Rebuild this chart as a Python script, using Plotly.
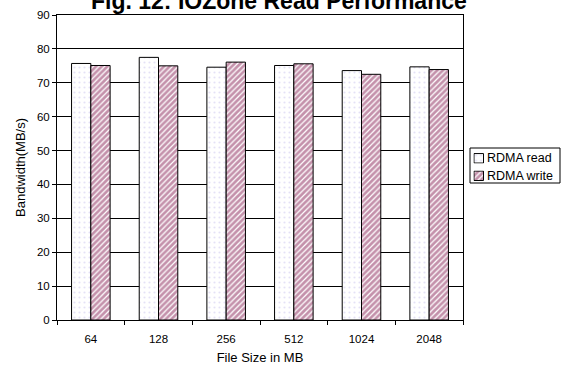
import plotly.graph_objects as go

file_sizes = ["64", "128", "256", "512", "1024", "2048"]
rdma_read = [75.7, 77.5, 74.6, 75.1, 73.6, 74.7]
rdma_write = [75.1, 75.0, 76.1, 75.6, 72.5, 73.9]
series_names = ["RDMA read", "RDMA write"]

FONT = "Liberation Sans, Arial, sans-serif"
W, H = 562, 367
ML, MR, MT, MB = 57, 0, 15, 47
PLOT_RIGHT = 463  # right edge of the bar area, px

read_marker = dict(color="white", line=dict(color="black", width=1),
                   pattern=dict(shape=".", fgcolor="#c9c3ee", bgcolor="white",
                                size=5, solidity=0.15))
write_marker = dict(color="white", line=dict(color="black", width=1),
                    pattern=dict(shape="/", fgcolor="#8a2458", bgcolor="white",
                                 size=4, solidity=0.7))


def px(x):
    """pixel x -> paper x"""
    return (x - ML) / (W - ML - MR)


def py(y):
    """pixel y -> paper y"""
    return (H - MB - y) / (H - MT - MB)


fig = go.Figure()
fig.add_trace(go.Bar(name=series_names[0], x=file_sizes, y=rdma_read,
                     marker=read_marker, showlegend=False))
fig.add_trace(go.Bar(name=series_names[1], x=file_sizes, y=rdma_write,
                     marker=write_marker, showlegend=False))

# legend swatches: one small bar in its own tiny inset axes each
swatch_rows = [158.3, 175.8]
for i, (name, marker, cy) in enumerate(zip(series_names, [read_marker, write_marker], swatch_rows)):
    ax = str(i + 2)
    fig.add_trace(go.Bar(x=[0], y=[1], width=[1], marker=marker, showlegend=False,
                         hoverinfo="skip", xaxis="x" + ax, yaxis="y" + ax))
    fig.update_layout(**{
        "xaxis" + ax: dict(domain=[px(473.5), px(484)], range=[-0.55, 0.55],
                           visible=False, anchor="y" + ax, fixedrange=True),
        "yaxis" + ax: dict(domain=[py(cy + 5.2), py(cy - 5.2)], range=[-0.05, 1.05],
                           visible=False, anchor="x" + ax, fixedrange=True),
    })

# the chart title sits partly above the top edge of the page
annotations = [dict(text="<b>Fig. 12: IOZone Read Performance</b>",
                    xref="paper", yref="paper", x=px(279), xanchor="center",
                    y=1.0, yanchor="bottom", yshift=-1, showarrow=False,
                    font=dict(size=23, family=FONT))]
for name, cy in zip(series_names, swatch_rows):
    annotations.append(dict(text=name, xref="paper", yref="paper", x=px(484.5),
                            xanchor="left", y=py(cy), yanchor="middle",
                            showarrow=False, font=dict(size=12.5, family=FONT)))

fig.update_layout(
    width=W, height=H,
    margin=dict(l=ML, r=MR, t=MT, b=MB),
    paper_bgcolor="white", plot_bgcolor="white",
    barmode="group", bargap=0.43, bargroupgap=0,
    font=dict(family=FONT, size=11, color="black"),
    showlegend=False,
    annotations=annotations,
    shapes=[dict(type="rect", xref="paper", yref="paper",
                 x0=px(470), x1=px(560), y0=py(183), y1=py(148),
                 line=dict(color="black", width=1), fillcolor="rgba(0,0,0,0)")],
    xaxis=dict(
        domain=[0, px(PLOT_RIGHT)],
        type="category", tickson="boundaries", ticks="outside", ticklen=4,
        tickcolor="black", showline=True, linecolor="black", linewidth=1,
        mirror=True, showgrid=False, ticklabelstandoff=8,
        tickfont=dict(size=11.5),
        title=dict(text="File Size in MB", standoff=9),
    ),
    yaxis=dict(
        range=[0, 90], dtick=10, ticks="outside", ticklen=4, tickcolor="black",
        showline=True, linecolor="black", linewidth=1, mirror=True,
        showgrid=True, gridcolor="black", gridwidth=1, zeroline=False,
        tickfont=dict(size=11.5),
        title=dict(text="Bandwidth(MB/s)", standoff=8),
    ),
)

fig.write_html("out.html")
